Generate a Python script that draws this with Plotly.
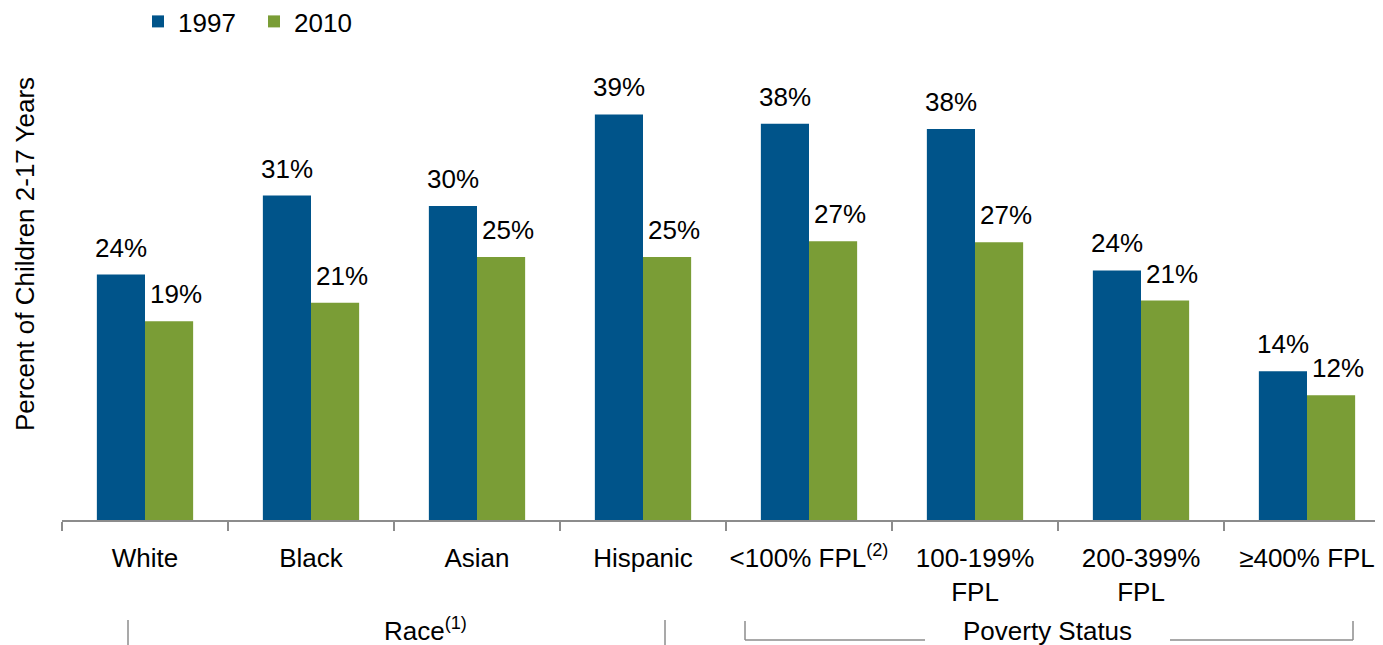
import plotly.graph_objects as go

categories = ["White", "Black", "Asian", "Hispanic",
              "&lt;100% FPL<sup>(2)</sup>", "100-199%<br>FPL", "200-399%<br>FPL", "≥400% FPL"]
values_1997 = [23.6, 31.2, 30.2, 39.0, 38.1, 37.6, 24.0, 14.3]
values_2010 = [19.1, 20.9, 25.3, 25.3, 26.8, 26.7, 21.1, 12.0]
series_names = ["1997", "2010"]
colors = ["#00548A", "#7A9D36"]

# page body has an 8px margin; compensate so the screen positions match
OFF = 8
W, H = 1383, 645
L = 62 - OFF
PT = 520 - OFF          # plot bottom in figure pixels
B = H - PT
PW, PH = W - L, PT
CAT_PX = 166.0
BARGAP = 0.42
HALF_BAR = CAT_PX * (1 - BARGAP) / 4   # half of one bar's width in px

def px(x):
    return (x - OFF - L) / PW

def py(y):
    return (PH - (y - OFF)) / PH

FONT = "Liberation Sans, Arial, sans-serif"

fig = go.Figure()
for name, vals, col in zip(series_names, [values_1997, values_2010], colors):
    fig.add_trace(go.Bar(
        x=categories, y=vals, name=name, marker_color=col,
        marker_line_width=0,
    ))

fig.update_layout(
    width=W, height=H,
    margin=dict(l=L, r=0, t=0, b=B, autoexpand=False),
    paper_bgcolor="white", plot_bgcolor="white",
    barmode="group", bargap=BARGAP, bargroupgap=0,
    font=dict(family=FONT, size=26, color="black"),
    legend=dict(orientation="h", xref="paper", yref="paper",
                x=px(138), y=py(-2), xanchor="left", yanchor="top",
                font=dict(size=26), itemwidth=30, traceorder="normal",
                entrywidth=71, entrywidthmode="pixels",
                bgcolor="rgba(0,0,0,0)"),
    xaxis=dict(type="category", range=[-0.5, -0.5 + PW / CAT_PX],
               showline=True, linecolor="#8C8C8C", linewidth=2,
               ticks="outside", tickson="boundaries", ticklen=9,
               tickcolor="#8C8C8C", tickwidth=2,
               tickfont=dict(size=26, color="black"), tickangle=0,
               ticklabelstandoff=14,
               showgrid=False, zeroline=False),
    yaxis=dict(range=[0, PH / 10.4], showticklabels=False, showgrid=False,
               zeroline=False, showline=False, ticks=""),
)

annotations = []
# value labels, placed from the data through the axes
for s, vals in enumerate([values_1997, values_2010]):
    shift = -HALF_BAR if s == 0 else HALF_BAR + 7
    for cat, v in zip(categories, vals):
        annotations.append(dict(
            text=f"{v:.0f}%", x=cat, y=v, xref="x", yref="y",
            xshift=shift, yshift=10, xanchor="center", yanchor="bottom",
            showarrow=False, font=dict(size=26, color="black")))

annotations += [
    dict(text="Percent of Children 2-17 Years", textangle=-90,
         x=px(25), y=py(254), xref="paper", yref="paper",
         xanchor="center", yanchor="middle", showarrow=False,
         font=dict(size=26)),
    dict(text="Race<sup>(1)</sup>", x=px(425), y=py(629), xref="paper", yref="paper",
         xanchor="center", yanchor="middle", showarrow=False, font=dict(size=26)),
    dict(text="Poverty Status", x=px(1047), y=py(631), xref="paper", yref="paper",
         xanchor="center", yanchor="middle", showarrow=False, font=dict(size=26)),
]
fig.update_layout(annotations=annotations)

line = dict(color="#8C8C8C", width=1.5)
segs = [
    (128, 620, 128, 646), (665, 620, 665, 646),
    (745, 621, 745, 640), (1353, 621, 1353, 640),
    (745, 640, 925, 640), (1170, 640, 1353, 640),
]
shapes = [dict(type="line", xref="paper", yref="paper",
               x0=px(a), y0=py(b), x1=px(c), y1=py(d), line=line)
          for a, b, c, d in segs]
fig.update_layout(shapes=shapes)

fig.write_html("out.html")
